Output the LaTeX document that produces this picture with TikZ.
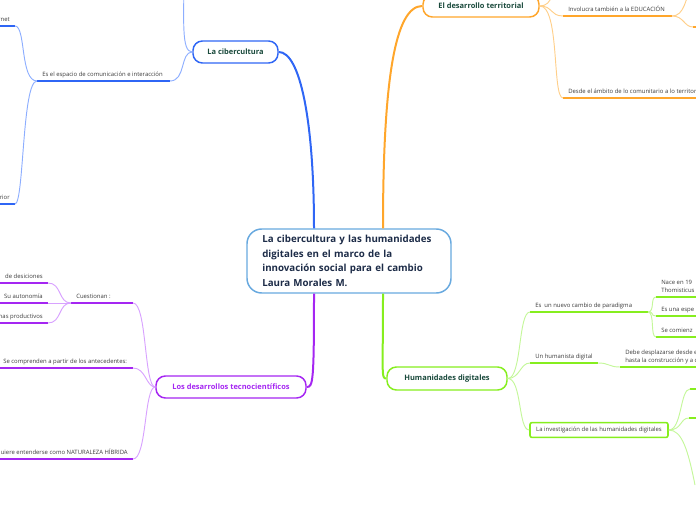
\documentclass[tikz,border=0pt]{standalone}
\usepackage{fontspec}
\setmainfont{Open Sans}
\definecolor{cblue}{HTML}{2F66F5}
\definecolor{cbluel}{HTML}{8DAEFF}
\definecolor{corange}{HTML}{FFA62B}
\definecolor{corangel}{HTML}{FFCF8A}
\definecolor{cgreen}{HTML}{86EE1E}
\definecolor{cgreenl}{HTML}{C4F79A}
\definecolor{cpurple}{HTML}{A526F2}
\definecolor{cpurplel}{HTML}{D8A2FF}
\definecolor{cframe}{HTML}{68A9DF}
\definecolor{titlegreen}{HTML}{1A4A3C}
\definecolor{centertext}{HTML}{1D2C48}
\definecolor{leafgray}{HTML}{3A3A3A}

\begin{document}
\begin{tikzpicture}[
  x=0.75pt, y=-0.75pt,
  font=\fontsize{4.45}{5.6}\selectfont,
  topic/.style={draw, line width=1.1pt, rounded corners=7pt, fill=white, inner xsep=0pt,
    minimum height=16.5pt, font=\fontsize{5.6}{7}\selectfont\bfseries, text=titlegreen},
  leaf/.style={anchor=south west, inner xsep=3.75pt, inner ysep=2.4pt, text depth=0.9pt, align=left, text=leafgray},
  leafr/.style={leaf, anchor=south east, align=right},
  uline/.style={line width=1.5pt},
  conn/.style={line width=0.7pt},
  main/.style={line width=1.5pt}
]
\useasboundingbox (0,0) rectangle (696,520);

\node[topic, draw=cframe, rounded corners=11pt, minimum width=153pt, minimum height=48pt,
  text width=130pt, inner xsep=11.5pt, align=left, text=centertext,
  font=\fontsize{7.3}{10.9}\selectfont\bfseries] (cen) at (349,261)
  {La cibercultura y las humanidades\\digitales en el marco de la\\innovación social para el cambio\\Laura Morales M.};
\node[topic, draw=cblue, minimum width=63.75pt] (cyb) at (235.5,52) {La cibercultura};
\node[topic, draw=corange, minimum width=87pt] (terr) at (481,6) {El desarrollo territorial};
\node[topic, draw=cgreen, minimum width=90pt, minimum height=17.25pt] (hum) at (447,378.5) {Humanidades digitales};
\node[topic, draw=cpurple, text=cpurple, minimum width=112.5pt] (tec) at (231,387) {Los desarrollos tecnocientíficos};

\node[leafr] (cb1) at (15,26) {rnet};
\node[leaf] (cb2) at (37,81) {Es el espacio de comunicación e interacción};
\node[leafr] (cb3) at (15,204) {rior};

\node[leaf] (ot1) at (563,16) {Involucra también a la EDUCACIÓN};
\node[leaf] (ot2) at (563,98) {Desde el ámbito de lo comunitario a lo territor};

\node[leaf] (hd1) at (530,312) {Es~ un nuevo cambio de paradigma};
\node[leaf] (hd2) at (530,363) {Un humanista digital};
\node[draw=cgreen, line width=1.2pt, rounded corners=1.5pt, minimum width=103.5pt, minimum height=10.5pt,
  inner xsep=0pt, text=leafgray] (hd3) at (599,430) {La investigación de las humanidades digitales};
\node[leaf] (hd11) at (656,297) {Nace en 19\\Thomisticus};
\node[leaf] (hd12) at (656,316) {Es una espe};
\node[leaf] (hd13) at (656,337) {Se comienz};
\node[leaf] (hd21) at (620,367) {Debe desplazarse desde e\\hasta la construcción y a c};

\node[leaf] (tc1) at (71,303) {Cuestionan :};
\node[leaf] (tc2) at (-2,368) {Se comprenden a partir de los antecedentes:};
\node[leafr] (tc3) at (133,459) {uiere entenderse como NATURALEZA HÍBRIDA};
\node[leafr] (tc11) at (48,283) {de desiciones};
\node[leafr] (tc12) at (48,303) {Su autonomía};
\node[leafr] (tc13) at (48,323) {mas productivos};

\coordinate (cbup) at (184,-30);
\coordinate (otup) at (555,-30);
\coordinate (otr1) at (692,-20);
\coordinate (otr2) at (693,27);
\coordinate (hr1) at (690,389);
\coordinate (hr2) at (689,418);
\coordinate (hr3) at (695,485);

\draw[uline, cblue] (cb1.south east) -- ++(-60,0);
\draw[uline, cblue] (cb2.south west) -- ++(133,0) coordinate (cb2e);
\draw[uline, cblue] (cb3.south east) -- ++(-60,0);
\draw[uline, corange] (ot1.south west) -- ++(109,0) coordinate (ot1e);
\draw[uline, corange] (ot2.south west) -- ++(200,0);
\draw[uline, corange] (otr2) -- ++(40,0);
\draw[uline, cgreen] (hd1.south west) -- ++(118,0) coordinate (hd1e);
\draw[uline, cgreen] (hd2.south west) -- ++(68,0) coordinate (hd2e);
\draw[uline, cgreen] (hd11.south west) -- ++(60,0);
\draw[uline, cgreen] (hd12.south west) -- ++(60,0);
\draw[uline, cgreen] (hd13.south west) -- ++(60,0);
\draw[uline, cgreen] (hd21.south west) -- ++(90,0);
\draw[uline, cgreen] (hr1) -- ++(30,0);
\draw[uline, cgreen] (hr2) -- ++(30,0);
\draw[uline, cpurple] (tc1.south west) -- ++(62,0) coordinate (tc1e);
\draw[uline, cpurple] (tc2.south west) -- ++(135,0) coordinate (tc2e);
\draw[uline, cpurple] (tc3.south east) -- ++(-150,0);
\draw[uline, cpurple] (tc11.south east) -- ++(-60,0);
\draw[uline, cpurple] (tc12.south east) -- ++(-60,0);
\draw[uline, cpurple] (tc13.south east) -- ++(-60,0);

\draw[main, cblue] ([xshift=-26.25pt]cen.north) .. controls (314,120) and (300,52) .. (cyb.east);
\draw[main, corange] ([xshift=25.5pt]cen.north) .. controls (383,80) and (395,6) .. (terr.west);
\draw[main, cpurple] ([xshift=-26.25pt]cen.south) .. controls (314,382) and (313,387) .. (tec.east);
\draw[main, cgreen] ([xshift=25.5pt]cen.south) .. controls (383,374) and (381,378.5) .. (hum.west);

\draw[conn, cbluel] (cyb.west) .. controls (181,52) and (184,20) .. (cbup);
\draw[conn, cbluel] (cyb.west) .. controls (180,52) and (186,81) .. (cb2e);
\draw[conn, cbluel] (cb2.south west) .. controls (20,81) and (26,26) .. (cb1.south east);
\draw[conn, cbluel] (cb2.south west) .. controls (22,81) and (24,204) .. (cb3.south east);

\draw[conn, corangel] (terr.east) .. controls (553,6) and (554,-10) .. (otup);
\draw[conn, corangel] (terr.east) .. controls (553,6) and (550,16) .. (ot1.south west);
\draw[conn, corangel] (terr.east) .. controls (560,6) and (552,98) .. (ot2.south west);
\draw[conn, corangel] (ot1e) .. controls (684,16) and (686,0) .. (otr1);
\draw[conn, corangel] (ot1e) .. controls (684,16) and (684,27) .. (otr2);

\draw[conn, cgreenl] (hum.east) .. controls (522,378.5) and (518,312) .. (hd1.south west);
\draw[conn, cgreenl] (hum.east) .. controls (520,378.5) and (520,363) .. (hd2.south west);
\draw[conn, cgreenl] (hum.east) .. controls (522,378.5) and (518,430) .. (hd3.west);
\draw[conn, cgreenl] (hd1e) .. controls (655,312) and (650,297) .. (hd11.south west);
\draw[conn, cgreenl] (hd1e) .. controls (655,312) and (650,316) .. (hd12.south west);
\draw[conn, cgreenl] (hd1e) .. controls (655,312) and (650,337) .. (hd13.south west);
\draw[conn, cgreenl] (hd2e) .. controls (610,363) and (608,367) .. (hd21.south west);
\draw[conn, cgreenl] (hd3.east) .. controls (682,430) and (680,389) .. (hr1);
\draw[conn, cgreenl] (hd3.east) .. controls (682,430) and (680,418) .. (hr2);
\draw[conn, cgreenl] (hd3.east) .. controls (682,430) and (688,450) .. (hr3);

\draw[conn, cpurplel] (tec.west) .. controls (144,387) and (147,303) .. (tc1e);
\draw[conn, cpurplel] (tec.west) .. controls (146,387) and (146,368) .. (tc2e);
\draw[conn, cpurplel] (tec.west) .. controls (144,387) and (147,459) .. (tc3.south east);
\draw[conn, cpurplel] (tc1.south west) .. controls (58,303) and (62,283) .. (tc11.south east);
\draw[conn, cpurplel] (tc1.south west) -- (tc12.south east);
\draw[conn, cpurplel] (tc1.south west) .. controls (58,303) and (62,323) .. (tc13.south east);
\end{tikzpicture}
\end{document}
